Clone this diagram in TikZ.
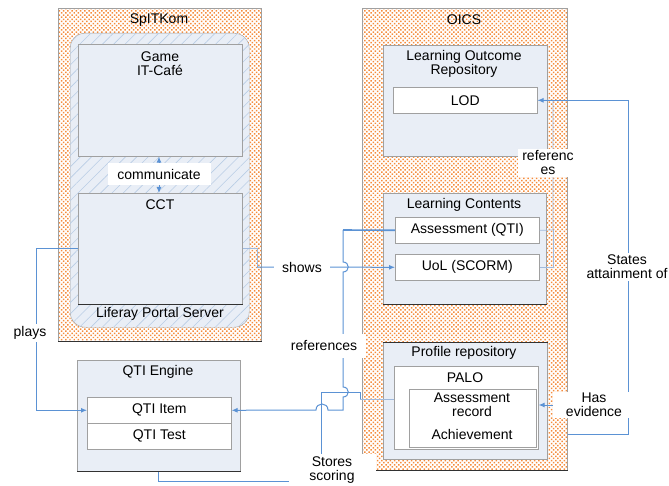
\documentclass[tikz,border=0pt]{standalone}
\usepackage{fontspec}
\setmainfont{Liberation Sans}
\usetikzlibrary{patterns.meta,arrows.meta}
\definecolor{dotorange}{RGB}{245,140,60}
\definecolor{panelfill}{RGB}{233,238,246}
\definecolor{panelline}{RGB}{160,160,160}
\definecolor{darkedge}{RGB}{50,50,50}
\definecolor{hatchblue}{RGB}{185,205,229}
\definecolor{linkblue}{RGB}{91,146,212}
\definecolor{faintblue}{RGB}{160,185,220}
\begin{document}
\begin{tikzpicture}[x=1pt,y=-1pt,
  font=\fontsize{14}{14}\selectfont,
  container/.style={anchor=north west, inner sep=0pt, draw=panelline, line width=0.5pt,
    pattern={Dots[distance=3pt, radius=1.05pt, angle=45]}, pattern color=dotorange},
  hatchbox/.style={anchor=north west, inner sep=0pt, rounded corners=15pt, draw=panelline,
    fill=panelfill, postaction={pattern={Lines[angle=45,distance=8pt,line width=0.6pt]}, pattern color=hatchblue}},
  panel/.style={anchor=north west, inner sep=0pt, draw=panelline, fill=panelfill, line width=0.6pt},
  item/.style={anchor=north west, inner sep=0pt, draw=panelline, fill=white, line width=0.6pt},
  txt/.style={inner sep=0pt, align=center},
  lbl/.style={fill=white, inner sep=2pt, align=center},
  edge/.style={draw=darkedge, line width=1.2pt},
  conn/.style={draw=linkblue, line width=1pt},
  faint/.style={draw=faintblue, line width=0.7pt},
  tip/.style={-{Latex[length=6pt,width=5pt]}}
]
\useasboundingbox (0,0) rectangle (669,486);

% containers
\node[container, minimum width=203pt, minimum height=333pt] (spit) at (58,8) {};
\node[container, minimum width=205pt, minimum height=462pt] (oics) at (362,8) {};
\draw[edge] (spit.south west) -- (spit.south east);
\draw[edge] (oics.south west) -- (oics.south east);
\node[txt] (spitT) at (159,20) {SpITKom};
\node[txt] (oicsT) at (464,20) {OICS};

% Liferay portal server
\node[hatchbox, minimum width=179pt, minimum height=294pt] (lif) at (70,33) {};
\node[panel, minimum width=164pt, minimum height=112pt] (game) at (78,44) {};
\node[txt] (gameT) at (160,64) {Game\\IT-Café};
\node[panel, minimum width=164pt, minimum height=111pt] (cct) at (78,193) {};
\draw[edge, line width=0.9pt] (cct.south west) -- (cct.south east);
\node[txt] (cctT) at (160,205) {CCT};
\node[txt] (lifT) at (160,314) {Liferay Portal Server};
\draw[conn, {Latex[length=6pt,width=5pt]}-{Latex[length=6pt,width=5pt]}] (game.south -| 159,0) -- (cct.north -| 159,0);
\node[fill=white, inner sep=0pt, minimum width=103pt, minimum height=22pt] (comm) at (159,174) {communicate};

% QTI engine
\node[panel, minimum width=163pt, minimum height=111pt] (qeng) at (77,360) {};
\draw[edge] (qeng.south west) -- (qeng.south east);
\node[txt] (qengT) at (158,372) {QTI Engine};
\node[item, minimum width=144pt, minimum height=26pt] (qitem) at (87,397) {};
\node[item, minimum width=144pt, minimum height=26pt] (qtest) at (87,423) {};
\node[txt] (qitemT) at (qitem.center) {QTI Item};
\node[txt] (qtestT) at (qtest.center) {QTI Test};

% Learning outcome repository
\node[panel, minimum width=164pt, minimum height=111pt] (lor) at (383,45) {};
\node[txt] (lorT) at (464,64) {Learning Outcome\\Repository};
\node[item, minimum width=144pt, minimum height=26pt] (lod) at (393,87) {};
\node[txt] (lodT) at (lod.center) {LOD};

% Learning contents
\node[panel, minimum width=163pt, minimum height=111pt] (lc) at (383,193) {};
\draw[edge, line width=0.9pt] (lc.south west) -- (lc.south east);
\node[txt] (lcT) at (464,205) {Learning Contents};
\node[item, minimum width=144pt, minimum height=26pt] (aqti) at (395,217) {};
\node[txt] (aqtiT) at (aqti.center) {Assessment (QTI)};
\node[item, minimum width=144pt, minimum height=26pt] (uol) at (395,254) {};
\node[txt] (uolT) at (uol.center) {UoL (SCORM)};

% Profile repository
\node[panel, minimum width=164pt, minimum height=117pt] (pr) at (383,342) {};
\draw[edge, line width=0.9pt] (pr.north west) -- (pr.north east);
\node[txt] (prT) at (464,353) {Profile repository};
\node[item, minimum width=144pt, minimum height=83pt] (palo) at (394,366) {};
\node[txt] (paloT) at (465,378) {PALO};
\node[item, minimum width=127pt, minimum height=58pt] (rec) at (409,389) {};
\node[txt] (recT) at (472,405) {Assessment\\record};
\node[txt] (ach) at (472,434) {Achievement};

% connectors
\draw[conn, tip] (cct.west |- 0,249) -- (36,249) |- (qitem.west);
\draw[faint] (cct.east |- 0,248) -- (257,248) -- (257,267);
\draw[conn, tip] (257,267) -- (uol.west);
\draw[conn, line width=1.6pt] (aqti.west) -- (343,230);
\draw[conn, tip] (343,230) -- (343,262) .. controls (350,262) and (350,272) .. (343,272)
   -- (343,387) .. controls (350,387) and (350,397) .. (343,397) -- (343,410) -- (328,410)
   .. controls (328,402) and (316,402) .. (316,410) -- (qitem.east);
\draw[faint] (palo.west |- 0,399) -- (360,399);
\draw[conn] (360,399) -- (360,392) -- (321,392) -- (321,481) -| (qeng.south);
\draw[faint] (aqti.east) -- (553,230) |- (lod.east);
\draw[faint] (uol.east) -| (553,230);
\draw[conn, tip] (oics.east |- ach) -- (628,434) |- (lod.east);
\draw[conn, tip] (oics.east |- 0,392) -- (588,392) |- (palo.east |- 0,405);

% labels
\node[lbl, minimum width=40pt] (plays) at (30,333) {plays};
\node[lbl, minimum width=56pt] (shows) at (302,267) {shows};
\node[lbl, minimum width=84pt, minimum height=24pt] (refs1) at (324,346) {references};
\node[lbl, minimum width=60pt] (refs2) at (548,163) {referenc\\es};
\node[lbl, minimum width=83pt] (states) at (627,267) {States\\attainment of};
\node[lbl, minimum width=83pt, inner sep=1pt] (hasev) at (594,405) {Has\\evidence};
\node[lbl, minimum width=87pt, minimum height=33pt] (stores) at (332,470) {Stores\\scoring};
\end{tikzpicture}
\end{document}
